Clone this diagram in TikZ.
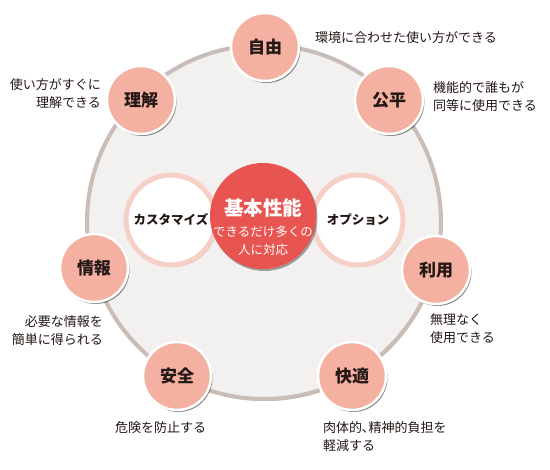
\documentclass[tikz,border=0pt]{standalone}
\usepackage{fontspec}
\setmainfont{Noto Sans CJK JP}
\usetikzlibrary{shadows}
\definecolor{salmon}{RGB}{244,176,160}
\definecolor{redc}{RGB}{232,84,80}
\definecolor{pinkring}{RGB}{246,208,198}
\definecolor{bggray}{RGB}{242,241,240}
\definecolor{ringtan}{RGB}{200,190,183}
\definecolor{ink}{RGB}{35,24,21}
\tikzset{
  outer/.style={circle, fill=salmon, draw=white, line width=2.5pt, minimum size=68pt, inner sep=0pt,
    text=ink, font=\fontsize{17}{17}\selectfont\bfseries,
    drop shadow={shadow xshift=1.5pt, shadow yshift=-2pt, opacity=0.45, fill=black}},
  ringc/.style={circle, fill=white, draw=pinkring, line width=5pt, minimum size=90pt, inner sep=0pt,
    text=ink, font=\fontsize{12.5}{12.5}\selectfont\bfseries,
    drop shadow={shadow xshift=1.5pt, shadow yshift=-2pt, opacity=0.4, fill=black}},
  desc/.style={font=\fontsize{13}{18}\selectfont, inner sep=0pt, text=ink}
}
\begin{document}
\begin{tikzpicture}[x=1pt,y=-1pt]
\useasboundingbox (0,0) rectangle (550,470);
\fill[white] (0,0) rectangle (550,470);
\node[circle, minimum size=354pt, inner sep=0pt, fill=bggray, draw=ringtan, line width=4pt,
  drop shadow={shadow xshift=1pt, shadow yshift=-2pt, opacity=0.3, fill=black}] (big) at (264,222) {};
% outer nodes
\node[outer] (jiyu) at (265,47) {自由};
\node[outer] (kohei) at (389,100) {公平};
\node[outer] (rikai) at (141,100) {理解};
\node[outer] (joho) at (94,268) {情報};
\node[outer] (anzen) at (177,376) {安全};
\node[outer] (kaiteki) at (352,376) {快適};
\node[outer] (riyo) at (436,270) {利用};
% descriptions
\node[desc, anchor=west] (djiyu) at (315,38) {環境に合わせた使い方ができる};
\node[desc, anchor=west, align=left] (dkohei) at (433,97) {機能的で誰もが\\同等に使用できる};
\node[desc, anchor=east, align=right] (drikai) at (101,94) {使い方がすぐに\\理解できる};
\node[desc, anchor=east, align=right] (djoho) at (103,331) {必要な情報を\\簡単に得られる};
\node[desc, anchor=west] (danzen) at (115,428) {危険を防止する};
\node[desc, anchor=west, align=left] (dkaiteki) at (323,437) {肉体的､精神的負担を\\軽減する};
\node[desc, anchor=west, align=left] (driyo) at (430,329) {無理なく\\使用できる};
% center
\node[ringc] (custom) at (171,220) {カスタマイズ};
\node[ringc] (option) at (358,220) {オプション};
\node[circle, fill=redc, minimum size=106pt, inner sep=0pt,
  drop shadow={shadow xshift=1.5pt, shadow yshift=-2pt, opacity=0.35, fill=black}] (kihon) at (263,216) {};
\node[text=white, font=\fontsize{19.5}{19.5}\selectfont\bfseries, inner sep=0pt] (kt) at (263,208) {基本性能};
\node[text=white, font=\fontsize{12.5}{18}\selectfont, inner sep=0pt, align=center] (ks) at (263,241) {できるだけ多くの\\人に対応};
\end{tikzpicture}
\end{document}
